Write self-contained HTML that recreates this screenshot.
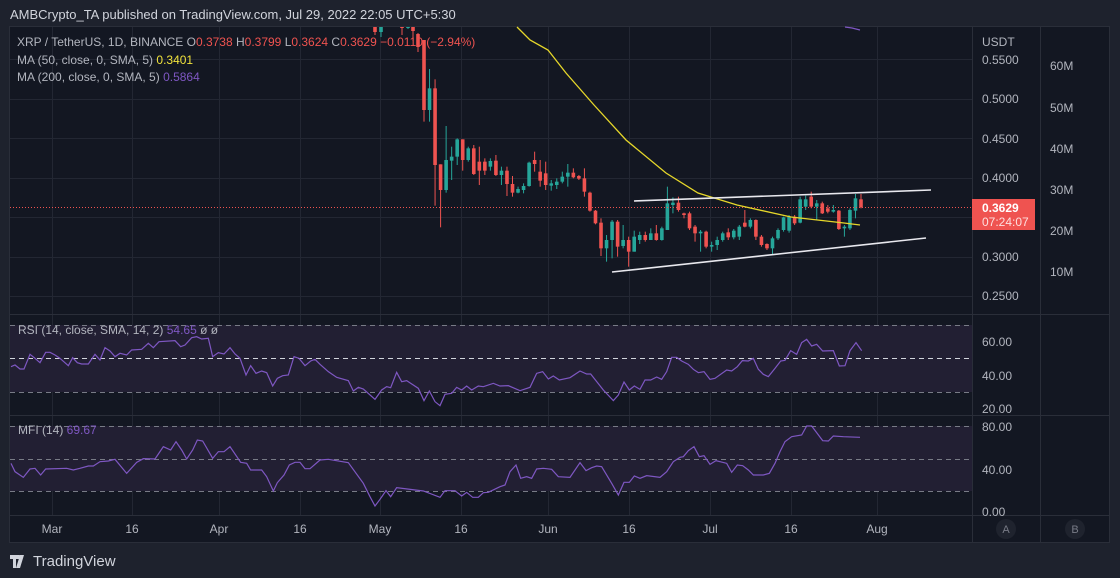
<!DOCTYPE html>
<html><head><meta charset="utf-8"><style>
html,body{margin:0;padding:0;background:#1e222d;width:1120px;height:578px;overflow:hidden;font-family:"Liberation Sans",sans-serif;}
svg{position:absolute;left:0;top:0}
</style></head><body>
<svg id="s" width="1120" height="578" xmlns="http://www.w3.org/2000/svg" font-family="Liberation Sans, sans-serif">
<rect x="0" y="0" width="1120" height="578" fill="#1e222d"/>
<text x="10" y="19" fill="#d1d4dc" font-size="13">AMBCrypto_TA published on TradingView.com, Jul 29, 2022 22:05 UTC+5:30</text>
<rect x="9.5" y="26.5" width="1100" height="516" fill="#131722" stroke="#2a2e39"/>
<g id="grid" stroke="#232733" stroke-width="1"></g>
<!-- RSI bands -->
<rect x="10" y="325" width="962" height="67" fill="#221f33"/>
<rect x="10" y="426" width="962" height="65" fill="#221f33"/>
<g id="g2" stroke="#2a2e39"></g>
<g id="dash" stroke-width="1" stroke-dasharray="5,4"></g>
<g id="cand"></g>
<g id="lines" fill="none"></g>
<!-- axes separators -->
<line x1="972.5" y1="27" x2="972.5" y2="542" stroke="#2a2e39"/>
<line x1="1040.5" y1="27" x2="1040.5" y2="542" stroke="#2a2e39"/>
<line x1="10" y1="314.5" x2="1109" y2="314.5" stroke="#2a2e39"/>
<line x1="10" y1="415.5" x2="1109" y2="415.5" stroke="#2a2e39"/>
<line x1="10" y1="515.5" x2="1109" y2="515.5" stroke="#2a2e39"/>
<g fill="#b2b5be" font-size="12">
<text x="982" y="46">USDT</text>
<text x="982" y="64">0.5500</text><text x="982" y="103">0.5000</text><text x="982" y="143">0.4500</text>
<text x="982" y="182">0.4000</text><text x="982" y="261">0.3000</text><text x="982" y="300">0.2500</text>
<text x="1050" y="70">60M</text><text x="1050" y="112">50M</text><text x="1050" y="153">40M</text>
<text x="1050" y="194">30M</text><text x="1050" y="235">20M</text><text x="1050" y="276">10M</text>
<text x="982" y="346">60.00</text><text x="982" y="380">40.00</text><text x="982" y="413">20.00</text>
<text x="982" y="431">80.00</text><text x="982" y="474">40.00</text><text x="982" y="516">0.00</text>
</g>
<rect x="972" y="199" width="63" height="31" fill="#ef5350"/>
<text x="982" y="212" fill="#fff" font-size="12" font-weight="bold">0.3629</text>
<text x="982" y="226" fill="#fde0df" font-size="12">07:24:07</text>
<circle cx="1006" cy="529" r="10" fill="#1f232e"/><text x="1006" y="533" fill="#787b86" font-size="11" text-anchor="middle">A</text>
<circle cx="1075" cy="529" r="10" fill="#1f232e"/><text x="1075" y="533" fill="#787b86" font-size="11" text-anchor="middle">B</text>
<g fill="#b2b5be" font-size="12" text-anchor="middle">
<text x="52" y="533">Mar</text><text x="132" y="533">16</text><text x="219" y="533">Apr</text><text x="300" y="533">16</text>
<text x="380" y="533">May</text><text x="461" y="533">16</text><text x="548" y="533">Jun</text><text x="629" y="533">16</text>
<text x="710" y="533">Jul</text><text x="791" y="533">16</text><text x="877" y="533">Aug</text>
</g>
<g font-size="12">
<text x="17" y="46" fill="#b2b5be">XRP / TetherUS, 1D, BINANCE  O<tspan fill="#ef5350">0.3738</tspan>  H<tspan fill="#ef5350">0.3799</tspan>  L<tspan fill="#ef5350">0.3624</tspan>  C<tspan fill="#ef5350">0.3629  −0.0110 (−2.94%)</tspan></text>
<text x="17" y="64" fill="#b2b5be">MA (50, close, 0, SMA, 5)  <tspan fill="#f0e23c">0.3401</tspan></text>
<text x="17" y="81" fill="#b2b5be">MA (200, close, 0, SMA, 5)  <tspan fill="#7e57c2">0.5864</tspan></text>
<text x="18" y="334" fill="#b2b5be">RSI (14, close, SMA, 14, 2)  <tspan fill="#7e57c2">54.65</tspan>  <tspan>ø  ø</tspan></text>
<text x="18" y="434" fill="#b2b5be">MFI (14)  <tspan fill="#7e57c2">69.67</tspan></text>
</g>
<g transform="translate(10,552)" fill="#d1d4dc">
<path d="M0 3h9v4H6v9H3V7H0z M10 3h4l-4 13H6z"/><circle cx="10" cy="5" r="2"/>
<text x="23" y="14" font-size="15">TradingView</text>
</g>
</svg>
<script>
var NS="http://www.w3.org/2000/svg";
function el(p,t,a){var e=document.createElementNS(NS,t);for(var k in a)e.setAttribute(k,a[k]);document.getElementById(p).appendChild(e);return e;}
var vx=[52,132,219,300,380,461,548,629,710,791,877];
vx.forEach(function(x){el('grid','line',{x1:x+.5,y1:27,x2:x+.5,y2:515});});
[59,99,138,178,217,257,296,341,375,458].forEach(function(y){el('grid','line',{x1:10,y1:y+.5,x2:972,y2:y+.5});});
[[325,'#787b86'],[358,'#d1d4dc'],[392,'#787b86'],[426,'#787b86'],[459,'#787b86'],[491,'#787b86']].forEach(function(d){el('dash','line',{x1:10,y1:d[0]+.5,x2:972,y2:d[0]+.5,stroke:d[1]});});
var G='#26a69a',R='#ef5350';
// pre candles (orig y)
var pre=[[375,R,27,32,27,35],[381,G,27,32,27,37],[402,R,27,28,27,35],[408,G,27,28,27,29],[413,R,27,31,27,41],[418,R,34,47,33,52]];
function candle(x,c,t,b,h,l){el('cand','line',{x1:x,y1:h,x2:x,y2:l,stroke:c,'stroke-width':1});el('cand','rect',{x:x-1.8,y:t,width:3.6,height:Math.max(1,b-t),fill:c});}
pre.forEach(function(p){candle(p[0],p[1],p[2],p[3],p[4],p[5]);});
var d=[[R,0,210,0,245],[G,145,210,87,245],[R,145,375,118,497],[R,373,450,373,562],[G,360,450,258,458],[G,350,362,320,420],[G,298,350,295,375],[R,298,360,298,392],[G,325,360,320,365],[R,325,402,315,405],[R,365,392,320,435],[R,365,392,355,405],[G,363,380,355,392],[R,362,405,345,408],[G,392,405,380,435],[R,392,432,380,468],[R,432,458,408,470],[G,447,458,440,460],[G,438,450,430,460],[G,368,438,365,440],[R,360,372,335,395],[R,395,422,360,440],[R,400,435,365,450],[G,430,437,420,452],[G,425,435,415,447],[G,410,425,395,430],[G,398,410,372,440],[R,398,412,385,415],[R,408,416,405,420],[R,415,455,385,470],[R,458,512,455,515],[R,512,550,510,553],[R,548,625,535,648],[G,600,625,585,665],[G,545,600,540,655],[R,545,620,540,650],[G,600,618,555,625],[R,600,635,590,680],[G,590,635,572,635],[G,585,600,575,612],[R,585,600,575,605],[G,580,600,565,600],[R,580,600,555,602],[G,565,600,560,602],[G,490,570,440,570],[G,488,495,472,520],[R,488,510,470,515],[R,520,525,518,535],[R,520,565,515,570],[R,560,580,555,605],[G,575,580,570,635],[R,575,620,572,625],[G,615,620,605,635],[G,600,615,590,630],[G,580,600,575,605],[R,577,592,565,600],[G,572,592,567,598],[G,560,590,555,600],[R,548,560,510,562],[G,540,560,535,565],[R,540,590,538,600],[R,590,615,585,620],[R,612,625,610,630],[G,595,625,590,642],[G,570,595,565,600],[G,532,570,530,575],[G,530,572,525,578],[R,530,550,525,555],[G,478,548,470,550],[G,478,500,467,510],[R,470,500,455,505],[G,490,500,480,540],[R,490,520,485,522],[R,505,515,495,520],[G,510,515,495,518],[R,512,567,510,570],[G,560,565,555,590],[G,510,565,505,570],[G,475,512,462,535],[R,478,502,462,505]];
var n=d.length;var sp=(861-424)/(n-1);
d.forEach(function(c,i){var x=424+i*sp;function Y(z){return 40+z/3;}candle(x,c[0],Math.max(27,Y(c[1])),Y(c[2]),Math.max(27,Y(c[3])),Y(c[4]));});
function poly(pts,col,w){el('lines','polyline',{points:pts.map(function(p){return p[0]+','+p[1];}).join(' '),stroke:col,'stroke-width':w});}
// price dotted line
el('lines','line',{x1:10,y1:207.5,x2:972,y2:207.5,stroke:'#ef5350','stroke-dasharray':'1,2'});
poly([[517,27],[530,40],[548,50],[566,73],[594,105],[626,140],[666,173],[698,193],[737,205],[791,217],[844,223],[860,225]],'#e6d72a',1.3);
poly([[845,27],[852,28],[860,30]],'#7e57c2',1.3);
poly([[634,201],[931,190]],'#e8e8ee',1.6);
poly([[612,272],[926,238]],'#e8e8ee',1.6);
var r4=[[33,200],[45,195],[60,207],[72,207],[90,163],[105,175],[120,188],[137,157],[150,157],[165,165],[180,175],[205,197],[218,173],[232,188],[245,192],[265,192],[285,163],[300,180],[315,143],[330,153],[345,170],[360,160],[380,165],[395,150],[425,148],[445,130],[460,143],[477,125],[525,122],[542,140],[555,135],[575,113],[590,110],[605,117],[625,115],[638,170],[655,158],[672,162],[690,143],[705,162],[720,175],[738,225],[752,197],[768,220],[785,213],[800,218],[818,258],[832,235],[848,227],[865,225],[882,170],[897,175],[915,197],[932,183],[945,178],[960,193],[985,215],[1010,232],[1045,242],[1060,273],[1075,262],[1090,267],[1125,298],[1145,270],[1160,260],[1172,263],[1190,217],[1205,245],[1220,242],[1255,265],[1272,302],[1288,273],[1305,305],[1320,317],[1335,283],[1355,280],[1370,262],[1385,270],[1400,258],[1415,270],[1435,258],[1450,260],[1480,250]];
var r5=[[0,258],[25,257],[60,272],[90,262],[110,220],[128,215],[145,237],[160,228],[178,240],[210,233],[240,213],[260,222],[272,222],[310,270],[340,302],[355,285],[372,246],[388,270],[403,258],[420,268],[435,240],[452,240],[470,231],[485,238],[500,215],[515,172],[530,172],[545,183],[565,193],[580,208],[595,218],[612,215],[630,238],[645,235],[680,210],[695,213],[712,200],[727,182],[745,183],[760,175],[775,208],[790,223],[805,230],[825,205],[842,183],[855,181],[872,152],[890,163],[905,128],[920,118],[935,138],[950,133],[968,153],[1000,152],[1018,198],[1035,197],[1050,152],[1068,128],[1085,152]];
var m4=[[33,490],[45,515],[70,532],[90,507],[105,505],[122,525],[137,507],[200,505],[220,510],[240,505],[265,498],[280,498],[300,485],[325,483],[345,478],[380,520],[410,487],[430,476],[465,477],[490,440],[512,450],[528,425],[545,450],[560,477],[578,450],[592,420],[608,423],[638,475],[655,455],[672,455],[690,440],[722,487],[740,490],[752,510],[785,510],[800,530],[820,573],[832,548],[852,525],[868,495],[885,487],[900,487],[915,506],[930,506],[960,480],[985,478],[1045,488],[1090,550],[1110,590],[1125,618],[1140,598],[1158,572],[1172,590],[1190,563],[1270,573],[1320,592],[1335,572],[1365,572],[1385,588],[1400,577],[1418,592],[1435,592],[1450,578],[1465,577]];
var m5=[[0,560],[15,555],[30,515],[48,495],[62,535],[80,530],[95,535],[110,507],[130,505],[155,508],[175,530],[210,532],[240,488],[258,512],[275,503],[290,498],[305,500],[335,550],[355,585],[372,547],[388,547],[403,528],[420,535],[440,527],[480,532],[500,515],[520,485],[540,472],[550,470],[565,452],[582,440],[598,470],[612,467],[630,493],[648,482],[680,490],[695,517],[712,495],[728,497],[745,510],[760,525],[790,525],[808,520],[825,490],[840,455],[855,425],[875,410],[905,405],[920,378],[935,378],[968,422],[985,423],[1000,408],[1030,410],[1080,412]];
function cv(a,ox){return a.map(function(p){return [ox+p[0]/3,300+p[1]/3];});}
poly(cv(r4,0).concat(cv(r5,500)),'#7e57c2',1.2);
poly(cv(m4,0).concat(cv(m5,500)),'#7e57c2',1.2);
</script>
</body></html>
